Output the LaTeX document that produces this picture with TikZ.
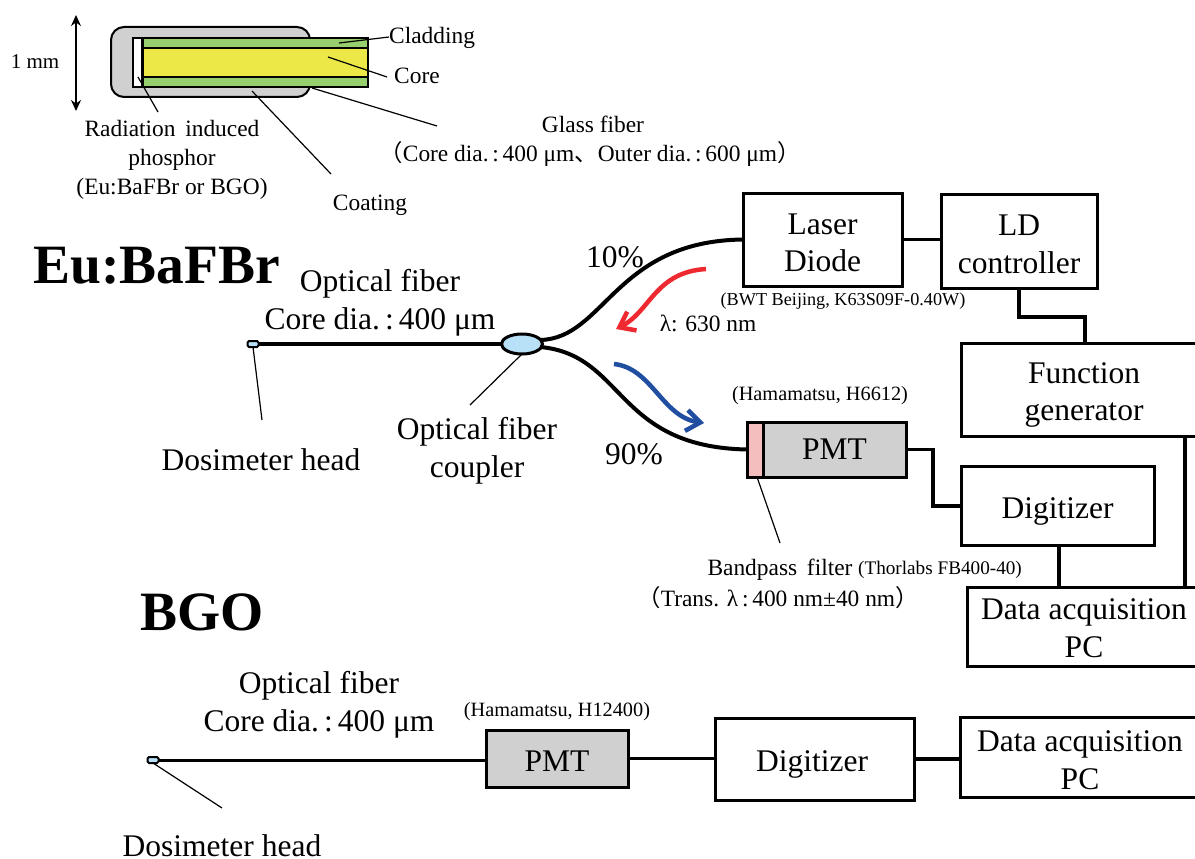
\documentclass[tikz,border=0pt]{standalone}
\usepackage{fontspec}
\setmainfont{Liberation Serif}
\newfontfamily\cjk{Noto Sans CJK JP}
\usetikzlibrary{arrows.meta, positioning, calc, shapes.geometric}
\newcommand{\fwcolon}{\makebox[0.6em]{:}}
\newcommand{\pushtext}[1]{\rule{0pt}{#1pt}}
\definecolor{cladgreen}{RGB}{150,208,110}
\definecolor{coreyellow}{RGB}{236,232,72}
\definecolor{coatgray}{RGB}{208,208,208}
\definecolor{filterpink}{RGB}{245,190,190}
\definecolor{couplerblue}{RGB}{184,224,246}
\definecolor{redarrow}{RGB}{238,42,48}
\definecolor{bluearrow}{RGB}{32,78,160}
\tikzset{
    box/.style={draw, line width=3pt, fill=white, inner sep=0pt, outer sep=0pt, align=center, font=\fontsize{31.5}{37.5}\selectfont},
    pmtbox/.style={box, fill=coatgray},
    fiber/.style={line width=4pt},
    wire/.style={line width=3.5pt},
    leader/.style={line width=1.2pt},
    big/.style={inner sep=0pt, align=center, font=\fontsize{31.5}{37.5}\selectfont},
    medium/.style={inner sep=0pt, align=center, font=\fontsize{23.4}{29}\selectfont},
    small/.style={inner sep=0pt, align=center, font=\fontsize{20.3}{24}\selectfont},
    tiny/.style={inner sep=0pt, align=center, font=\fontsize{18.2}{21}\selectfont},
    heading/.style={inner sep=0pt, font=\fontsize{55.5}{60}\selectfont\bfseries},
    lightarrow/.style={line width=4.5pt, -{Straight Barb[length=14pt, width=21pt, line width=4.5pt]}},
}
\begin{document}
\begin{tikzpicture}[x=1pt, y=-1pt]
    \useasboundingbox (0,0) rectangle (1195,859);
    \fill[white] (0,0) rectangle (1195,859);
    % fiber tip
    \node[draw, line width=2pt, fill=coatgray, rounded corners=13pt, minimum width=199pt, minimum height=70pt, inner sep=0pt] (coating) at (210.5,62) {};
    \node[draw, line width=2.5pt, fill=cladgreen, minimum width=226pt, minimum height=49pt, inner sep=0pt, outer sep=0pt] (cladding) at (255,62.5) {};
    \node[draw, line width=2.5pt, fill=coreyellow, minimum width=226pt, minimum height=29pt, inner sep=0pt, outer sep=0pt] (core) at (255,62.5) {};
    \node[draw, line width=2.5pt, fill=white, minimum width=9.5pt, minimum height=49pt, inner sep=0pt, outer sep=0pt] (phosphor) at (137.5,62.5) {};
    \coordinate (top) at (76,15);
    \coordinate (bottom) at (76,111);
    \draw[line width=1.5pt, {Stealth[length=11pt, width=10pt]}-{Stealth[length=11pt, width=10pt]}] (top) -- (bottom);
    \node[small, font=\fontsize{21}{24}\selectfont] (size) at (35,62) {1 mm};
    \node[medium, anchor=west] (cladlabel) at (389,38) {Cladding};
    \node[medium, anchor=west] (corelabel) at (394,76) {Core};
    \node[medium] (radlabel) at (172,160) {Radiation\, induced\\phosphor\\(Eu:BaFBr or BGO)};
    \node[medium] (coatlabel) at (370,205) {Coating};
    \node[medium] (glasslabel) at (593,124) {Glass fiber};
    \node[medium] (glassdims) at (590,154) {{\cjk （}Core dia.\fwcolon 400 μm{\cjk 、}Outer dia.\fwcolon 600 μm{\cjk ）}};
    \coordinate (cladpt) at (339,43);
    \coordinate (cladfree) at (389,37);
    \coordinate (corept) at (328,57);
    \coordinate (corefree) at (387,77);
    \coordinate (radpt) at (138,77);
    \coordinate (radfree) at (158,112);
    \coordinate (coatpt) at (252,91);
    \coordinate (coatfree) at (331,174);
    \coordinate (glasspt) at (312,88);
    \coordinate (glassfree) at (437,126);
    \draw[leader] (cladfree) -- (cladpt);
    \draw[leader] (corefree) -- (corept);
    \draw[leader] (radfree) -- (radpt);
    \draw[leader] (coatfree) -- (coatpt);
    \draw[leader] (glassfree) -- (glasspt);
    % Eu:BaFBr
    \node[heading] (eulabel) at (156.5,266) {Eu:BaFBr};
    \node[big] (fiberlabel) at (380,303) {Optical fiber\\Core dia.\fwcolon 400 μm};
    \node[draw, line width=2pt, fill=couplerblue, rounded corners=1.5pt, minimum width=11pt, minimum height=6pt, inner sep=0pt, outer sep=0pt] (head) at (253,344) {};
    \node[draw, line width=3pt, fill=couplerblue, ellipse, minimum width=41pt, minimum height=20pt, inner sep=0pt, outer sep=0pt] (coupler) at (522,344) {};
    \node[box, minimum width=159pt, minimum height=93pt] (laser) at (822.5,239.5) {\pushtext{27}Laser\\Diode};
    \node[box, minimum width=156pt, minimum height=94pt] (ldctrl) at (1019,241) {\pushtext{27}LD\\controller};
    \node[box, minimum width=246pt, minimum height=93pt] (funcgen) at (1084,389.5) {\pushtext{32}Function\\generator};
    \node[box, minimum width=193pt, minimum height=79pt] (digitizer) at (1057.5,506) {\pushtext{31}Digitizer};
    \node[box, minimum width=234pt, minimum height=79pt] (daq) at (1084,627) {\pushtext{23}Data acquisition\\PC};
    \node[pmtbox, minimum width=159pt, minimum height=55pt] (pmt) at (826.5,449.5) {\hspace{16pt}PMT};
    \node[draw, line width=3pt, fill=filterpink, minimum width=16pt, minimum height=55pt, inner sep=0pt, outer sep=0pt] (filter) at (755,449.5) {};
    \draw[fiber] (head.east) -- (coupler.west);
    \draw[fiber] (coupler.east) ++(-2,-4) .. controls (605,338) and (615,241) .. (laser.west);
    \draw[fiber] (coupler.east) ++(-2,3) .. controls (625,355) and (615,447) .. (filter.west);
    \draw[wire] (laser.east) -- (ldctrl.west |- laser.east);
    \draw[wire] (ldctrl.south) -- ++(0,29) -| (funcgen.north -| 1085,0);
    \draw[wire] (pmt.east) -- ++(27,0) |- (digitizer.west);
    \draw[wire] (digitizer.south -| 1059,0) -- (daq.north -| 1059,0);
    \draw[wire] (funcgen.south -| 1185,0) -- (daq.north -| 1185,0);
    \coordinate (redstart) at (706,269);
    \coordinate (redend) at (616,329);
    \coordinate (bluestart) at (614,364);
    \coordinate (blueend) at (704,423);
    \draw[lightarrow, redarrow] (redstart) .. controls (655,272) and (650,312) .. (redend);
    \draw[lightarrow, bluearrow] (bluestart) .. controls (652,368) and (662,417) .. (blueend);
    \node[big] (tenpct) at (615,257) {10\%};
    \node[big] (ninetypct) at (634,454) {90\%};
    \node[tiny] (laserref) at (843,301) {(BWT Beijing, K63S09F-0.40W)};
    \node[medium] (wavelength) at (708,323) {λ: 630 nm};
    \node[small] (pmtref) at (820,396) {(Hamamatsu, H6612)};
    \node[big] (headlabel) at (261,460) {Dosimeter head};
    \node[big] (couplerlabel) at (477,451) {Optical fiber\\coupler};
    \node[medium] (bandlabel) at (780,570) {Bandpass\, filter};
    \node[tiny, font=\fontsize{19.2}{21}\selectfont] (thorlabel) at (940,570) {(Thorlabs FB400-40)};
    \node[medium] (bandrange) at (778,598) {{\cjk （}Trans. λ\fwcolon 400 nm±40 nm{\cjk ）}};
    \coordinate (headfree) at (262,420);
    \coordinate (couplerfree) at (470,405);
    \coordinate (filterfree) at (780,543);
    \draw[leader] (head.south) -- (headfree);
    \draw[leader] (coupler.south) -- (couplerfree);
    \draw[leader] (filter.south) ++(2,0) -- (filterfree);
    % BGO
    \node[heading] (bgolabel) at (202,612) {BGO};
    \node[big] (bgofiber) at (319,705) {Optical fiber\\Core dia.\fwcolon 400 μm};
    \node[draw, line width=2pt, fill=couplerblue, rounded corners=1.5pt, minimum width=11pt, minimum height=6pt, inner sep=0pt, outer sep=0pt] (bgohead) at (153,760) {};
    \node[pmtbox, minimum width=142pt, minimum height=57pt] (bgopmt) at (557,758.5) {\pushtext{25}PMT};
    \node[box, minimum width=199pt, minimum height=82pt] (bgodig) at (814.5,759) {\pushtext{31}Digitizer\hspace{5pt}};
    \node[box, minimum width=240pt, minimum height=80pt] (bgodaq) at (1080,757) {\pushtext{27}Data acquisition\\PC};
    \draw[line width=3pt] (bgohead.east) -- (bgohead.east -| bgopmt.west);
    \draw[wire] (bgopmt.east) -- (bgodig.west |- bgopmt.east);
    \draw[wire] (bgodig.east) -- (bgodaq.west |- bgodig.east);
    \node[small] (bgoref) at (557,712) {(Hamamatsu, H12400)};
    \node[big, text depth=0pt] (bgoheadlabel) at (222,845.5) {Dosimeter head};
    \coordinate (bgofree) at (222,808);
    \draw[leader] (bgohead.south) -- (bgofree);
\end{tikzpicture}
\end{document}
